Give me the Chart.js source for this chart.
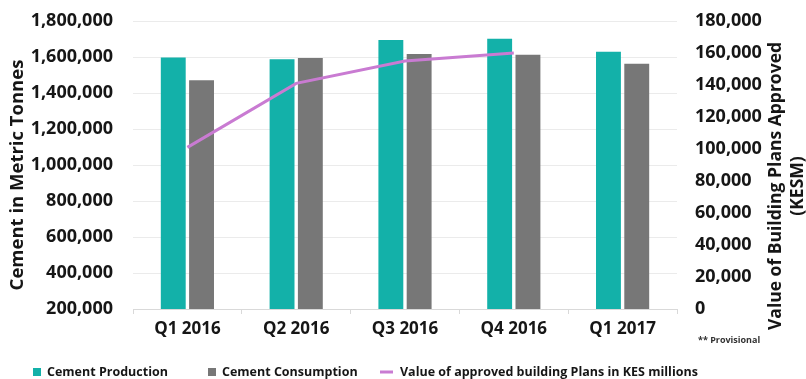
<!DOCTYPE html>
<html>
<head>
<meta charset="utf-8">
<script src="https://cdn.jsdelivr.net/npm/chart.js@4.4.0/dist/chart.umd.min.js"></script>
<style>
  body { margin: 0; background: #fff; }
  #wrap { width: 806px; height: 379px; }
</style>
</head>
<body>
<div id="wrap"><canvas id="cementChart"></canvas></div>
<script>
const quarters = ["Q1 2016", "Q2 2016", "Q3 2016", "Q4 2016", "Q1 2017"];
const production = [1597000, 1588000, 1694000, 1701000, 1629000];
const consumption = [1471000, 1594000, 1617000, 1612000, 1562000];
const plansApproved = [101000, 141000, 155000, 160000, null];

const FONT = "'Open Sans', 'Noto Sans', sans-serif";
const INK = "#161616";

// axis titles, footnote and legend drawn straight onto the canvas
const extras = {
  id: "extras",
  afterDraw(chart) {
    const ctx = chart.ctx;
    ctx.save();
    ctx.fillStyle = INK;
    ctx.textAlign = "center";
    ctx.textBaseline = "middle";

    ctx.font = "bold 18.5px " + FONT;
    ctx.save();
    ctx.translate(18, 175);
    ctx.rotate(-Math.PI / 2);
    ctx.fillText("Cement in Metric Tonnes", 0, 0);
    ctx.restore();

    ctx.font = "bold 17.5px " + FONT;
    ctx.save();
    ctx.translate(776, 186);
    ctx.rotate(-Math.PI / 2);
    ctx.fillText("Value of Building Plans Approved", 0, 0);
    ctx.fillText("(KESM)", 0, 22);
    ctx.restore();

    ctx.font = "bold 9px " + FONT;
    ctx.textAlign = "left";
    ctx.fillStyle = "#333";
    ctx.fillText("** Provisional", 698, 340);

    // legend columns
    const cols = [33, 208, 380];
    const y = 372;
    ctx.font = "bold 12.5px " + FONT;
    ctx.fillStyle = INK;
    chart.data.datasets.forEach((ds, i) => {
      const x = cols[i];
      if (ds.type === "line") {
        ctx.strokeStyle = ds.borderColor;
        ctx.lineWidth = 3;
        ctx.beginPath();
        ctx.moveTo(x, y);
        ctx.lineTo(x + 13, y);
        ctx.stroke();
        ctx.fillText(ds.label, x + 20, y);
      } else {
        ctx.fillStyle = ds.backgroundColor;
        ctx.fillRect(x, y - 4, 8, 8);
        ctx.fillStyle = INK;
        ctx.fillText(ds.label, x + 14, y);
      }
    });
    ctx.restore();
  }
};

// fixed axis box sizes, no extra room reserved for label overhang
function fixWidth(w) {
  return (scale) => {
    scale.width = w;
    scale.paddingTop = 0;
    scale.paddingBottom = 0;
  };
}

new Chart(document.getElementById("cementChart"), {
  data: {
    labels: quarters,
    datasets: [
      {
        type: "bar",
        label: "Cement Production",
        data: production,
        backgroundColor: "#13b1a9",
        yAxisID: "y",
        categoryPercentage: 0.52,
        barPercentage: 0.88,
        order: 2
      },
      {
        type: "bar",
        label: "Cement Consumption",
        data: consumption,
        backgroundColor: "#777777",
        yAxisID: "y",
        categoryPercentage: 0.52,
        barPercentage: 0.88,
        order: 2
      },
      {
        type: "line",
        label: "Value of approved building Plans in KES millions",
        data: plansApproved,
        borderColor: "#c97bd2",
        borderWidth: 3,
        pointRadius: 0,
        tension: 0,
        yAxisID: "y1",
        order: 1
      }
    ]
  },
  options: {
    responsive: true,
    maintainAspectRatio: false,
    animation: false,
    layout: { padding: { top: 21, bottom: 30, left: 0, right: 0 } },
    plugins: {
      legend: { display: false },
      tooltip: { enabled: false }
    },
    scales: {
      x: {
        grid: {
          offset: true,
          drawOnChartArea: false,
          drawTicks: true,
          tickLength: 5,
          color: "#d9d9d9"
        },
        border: { color: "#d9d9d9" },
        ticks: {
          color: INK,
          padding: 5,
          font: { family: FONT, size: 17, weight: "bold" }
        },
        afterFit(scale) {
          scale.height = 40;
          scale.paddingLeft = 0;
          scale.paddingRight = 0;
        }
      },
      y: {
        position: "left",
        min: 200000,
        max: 1800000,
        grid: { color: "#ebebeb", drawTicks: false },
        border: { display: false },
        ticks: {
          stepSize: 200000,
          color: INK,
          padding: 20,
          font: { family: FONT, size: 18, weight: "bold" },
          callback: (v) => v.toLocaleString("en-US")
        },
        afterFit: fixWidth(133)
      },
      y1: {
        position: "right",
        min: 0,
        max: 180000,
        grid: { drawOnChartArea: false, drawTicks: false },
        border: { display: false },
        ticks: {
          stepSize: 20000,
          color: INK,
          padding: 18,
          font: { family: FONT, size: 18, weight: "bold" },
          callback: (v) => v.toLocaleString("en-US")
        },
        afterFit: fixWidth(129)
      }
    }
  },
  plugins: [extras]
});
</script>
</body>
</html>
